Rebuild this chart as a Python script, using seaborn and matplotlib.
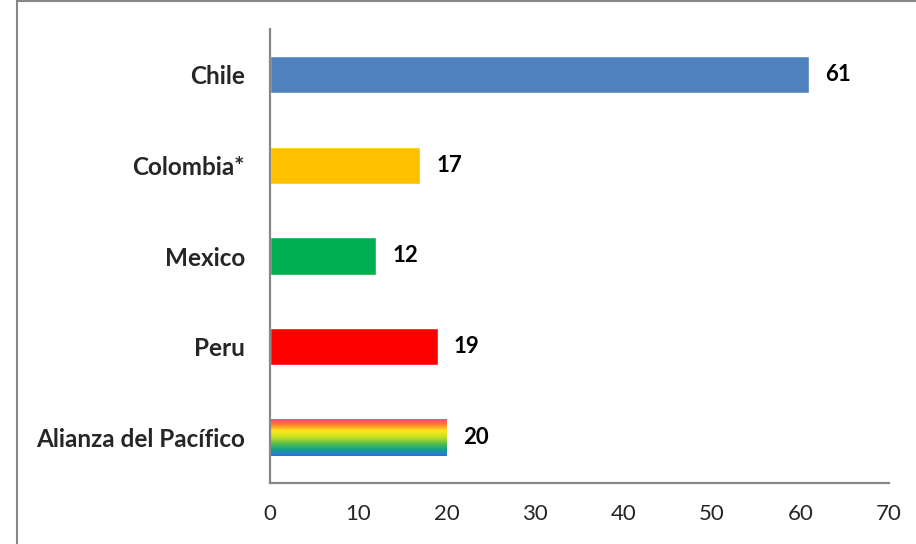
import numpy as np
import pandas as pd
import matplotlib
matplotlib.use("Agg")
import matplotlib.pyplot as plt
import seaborn as sns
from matplotlib.colors import LinearSegmentedColormap
from matplotlib.patches import Rectangle

countries = ["Chile", "Colombia*", "Mexico", "Peru", "Alianza del Pacífico"]
values = [61, 17, 12, 19, 20]
bar_colors = ["#4F81BD", "#FFC000", "#00B050", "#FF0000", "#FFFFFF"]
rainbow = ["#FF3A8C", "#FF7A30", "#FFE81A", "#C8E020", "#5CBF4A", "#14A08C", "#2F6FE8"]
xticks = [0, 10, 20, 30, 40, 50, 60, 70]

df = pd.DataFrame({"country": countries, "value": values})

sns.set_style("white")
plt.rcParams["font.family"] = ["Lato", "DejaVu Sans"]

fig = plt.figure(figsize=(9.16, 5.44), dpi=100)
ax = fig.add_axes([270 / 916, 1 - 483 / 544, 619 / 916, 454 / 544])

sns.barplot(data=df, y="country", x="value", hue="country", palette=bar_colors,
            orient="h", width=0.41, legend=False, ax=ax, saturation=1)

# rainbow fill for the last bar
bar = ax.patches[-1]
bar.set_facecolor("none")
bar.set_edgecolor("none")
x0, y0 = bar.get_x(), bar.get_y()
w, h = bar.get_width(), bar.get_height()
cmap = LinearSegmentedColormap.from_list("rb", rainbow)
grad = np.linspace(0, 1, 256).reshape(-1, 1)
im = ax.imshow(grad, cmap=cmap, aspect="auto", extent=[x0, x0 + w, y0 + h, y0],
               origin="upper", zorder=2)
im.set_clip_path(bar)
ax.set_ylim(4.5, -0.5)

for i, v in enumerate(values):
    ax.text(v + 1.8, i, str(v), va="center", ha="left", fontsize=16,
            fontweight="bold", color="black")

ax.set_xlim(0, 70)
ax.set_xticks(xticks)
ax.set_xlabel("")
ax.set_ylabel("")
ax.tick_params(axis="x", length=0, pad=15, labelsize=16)
ax.tick_params(axis="y", length=0, pad=18, labelsize=17.5)
for lab in ax.get_yticklabels():
    lab.set_fontweight("bold")

for s in ["top", "right"]:
    ax.spines[s].set_visible(False)
for s in ["left", "bottom"]:
    ax.spines[s].set_color("#888888")
    ax.spines[s].set_linewidth(1.6)

fig.patches.append(Rectangle((17 / 916, -0.1), 1.2, 1.1 - 1.5 / 544,
                             transform=fig.transFigure, fill=False,
                             edgecolor="#888888", linewidth=1.5))

fig.savefig("out.png", dpi=100)
